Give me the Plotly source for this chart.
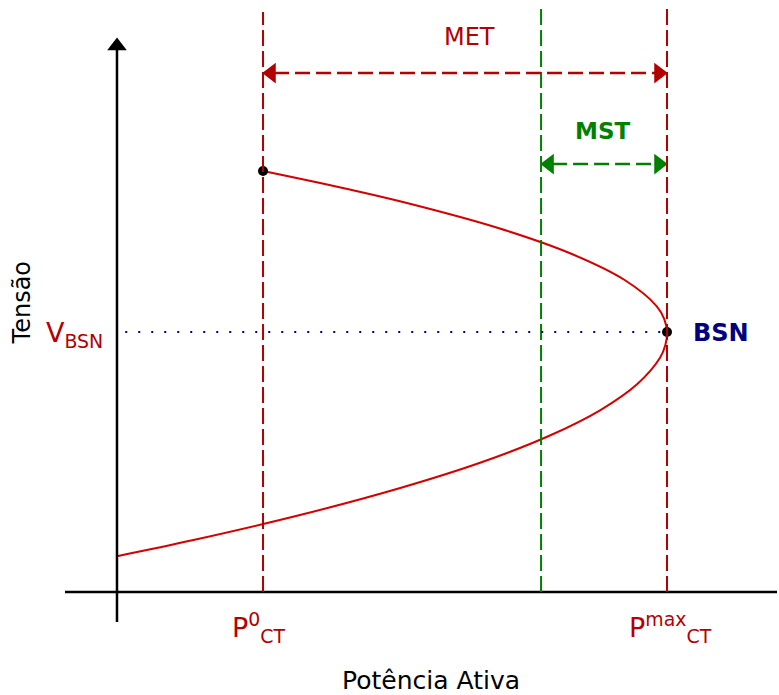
import plotly.graph_objects as go

# ---- data (P in units of P_max, V in units of V_BSN) ----
V_upper = [1.619, 1.55, 1.5, 1.4, 1.3, 1.2, 1.1, 1.05, 1.0]
P_upper = [0.2655, 0.419, 0.52, 0.693, 0.827, 0.923, 0.981, 0.995, 1.0]
V_lower = [1.0, 0.95, 0.9, 0.8, 0.7, 0.6, 0.5, 0.4, 0.3, 0.2, 0.138]
P_lower = [1.0, 0.997, 0.987, 0.946, 0.879, 0.785, 0.664, 0.515, 0.34, 0.139, 0.0]

P0_CT = 0.2655
P_MST = 0.771
P_MAX = 1.0
V_BSN = 1.0
V_TOP = 1.619

labels = {
    "x": "Potência Ativa",
    "y": "Tensão",
    "met": "MET",
    "mst": "MST",
    "bsn": "BSN",
    "vbsn": "V<sub>BSN</sub>",
    "p0": "P<sup>0</sup><sub>CT</sub>",
    "pmax": "P<sup>max</sup><sub>CT</sub>",
}

RED = "#b30000"
CURVE = "#d40000"
GREEN = "#008000"
BLUE = "#000080"
FONT = "DejaVu Sans"

fig = go.Figure()

# curve
fig.add_trace(go.Scatter(x=P_upper + P_lower[1:], y=V_upper + V_lower[1:], mode="lines",
                         line=dict(color=CURVE, width=2, shape="spline", smoothing=1.0),
                         hoverinfo="skip"))

shapes = []
# axes
shapes.append(dict(type="line", xref="x", yref="y", x0=-0.0945, x1=1.2, y0=0, y1=0,
                   line=dict(color="black", width=2.5)))
shapes.append(dict(type="line", xref="x", yref="y", x0=0, x1=0, y0=-0.115, y1=2.09,
                   line=dict(color="black", width=2.5)))
# vertical dashed lines
shapes.append(dict(type="line", xref="x", yref="y", x0=P0_CT, x1=P0_CT, y0=0, y1=2.231,
                   line=dict(color=RED, width=2, dash="16px,5px")))
shapes.append(dict(type="line", xref="x", yref="y", x0=P_MAX, x1=P_MAX, y0=0, y1=2.258,
                   line=dict(color=RED, width=2, dash="16px,5px")))
shapes.append(dict(type="line", xref="x", yref="y", x0=P_MST, x1=P_MST, y0=0, y1=2.246,
                   line=dict(color=GREEN, width=2, dash="16px,5px")))
# dotted V_BSN line
shapes.append(dict(type="line", xref="x", yref="y", x0=0.015, x1=P_MAX, y0=V_BSN, y1=V_BSN,
                   line=dict(color=BLUE, width=2, dash="2px,11px")))
# MET / MST dashed arrows
Y_MET = 1.996
Y_MST = 1.646
shapes.append(dict(type="line", xref="x", yref="y", x0=P0_CT + 0.02, x1=P_MAX - 0.02, y0=Y_MET, y1=Y_MET,
                   line=dict(color=RED, width=2.5, dash="15px,6px")))
shapes.append(dict(type="line", xref="x", yref="y", x0=P_MST + 0.02, x1=P_MAX - 0.02, y0=Y_MST, y1=Y_MST,
                   line=dict(color=GREEN, width=2.5, dash="15px,6px")))

# arrowheads
fig.add_trace(go.Scatter(x=[P0_CT + 0.015, P_MAX - 0.015], y=[Y_MET, Y_MET], mode="markers",
                         marker=dict(symbol=["triangle-left", "triangle-right"], size=18, color=RED),
                         hoverinfo="skip", cliponaxis=False))
fig.add_trace(go.Scatter(x=[P_MST + 0.015, P_MAX - 0.015], y=[Y_MST, Y_MST], mode="markers",
                         marker=dict(symbol=["triangle-left", "triangle-right"], size=18, color=GREEN),
                         hoverinfo="skip", cliponaxis=False))
fig.add_trace(go.Scatter(x=[0], y=[2.1], mode="markers",
                         marker=dict(symbol="triangle-up", size=17, color="black"),
                         hoverinfo="skip", cliponaxis=False))
fig.add_trace(go.Scatter(x=[1.207], y=[0], mode="markers",
                         marker=dict(symbol="triangle-right", size=14, color="black"),
                         hoverinfo="skip", cliponaxis=False))
# points
fig.add_trace(go.Scatter(x=[P0_CT, P_MAX], y=[V_TOP, V_BSN], mode="markers",
                         marker=dict(size=10, color="black"), hoverinfo="skip", cliponaxis=False))

ann = []
ann.append(dict(x=0.64, y=2.135, text=labels["met"], font=dict(family=FONT, size=24, color=RED)))
ann.append(dict(x=0.8836, y=1.773, text="<b>" + labels["mst"] + "</b>", font=dict(family=FONT, size=23, color=GREEN)))
ann.append(dict(x=1.098, y=0.996, text="<b>" + labels["bsn"] + "</b>", font=dict(family=FONT, size=24, color=BLUE)))
ann.append(dict(x=-0.078, y=0.99, text=labels["vbsn"], font=dict(family=FONT, size=27, color=RED)))
ann.append(dict(x=0.258, y=-0.138, text=labels["p0"], font=dict(family=FONT, size=27, color=RED)))
ann.append(dict(x=1.007, y=-0.138, text=labels["pmax"], font=dict(family=FONT, size=27, color=RED)))
ann.append(dict(x=0.571, y=-0.342, text=labels["x"], font=dict(family=FONT, size=25, color="black")))
ann.append(dict(x=-0.1727, y=1.11, text=labels["y"], textangle=-90, font=dict(family=FONT, size=24, color="black")))
for a in ann:
    a.update(xref="x", yref="y", showarrow=False, xanchor="center", yanchor="middle")

fig.update_layout(
    width=779, height=695,
    margin=dict(l=0, r=0, t=0, b=0),
    paper_bgcolor="white", plot_bgcolor="white",
    showlegend=False,
    shapes=shapes, annotations=ann,
    xaxis=dict(range=[-0.2127, 1.2036], visible=False, fixedrange=True),
    yaxis=dict(range=[-0.396, 2.277], visible=False, fixedrange=True),
    hovermode=False,
)

fig.write_html("out.html", config=dict(displayModeBar=False))
